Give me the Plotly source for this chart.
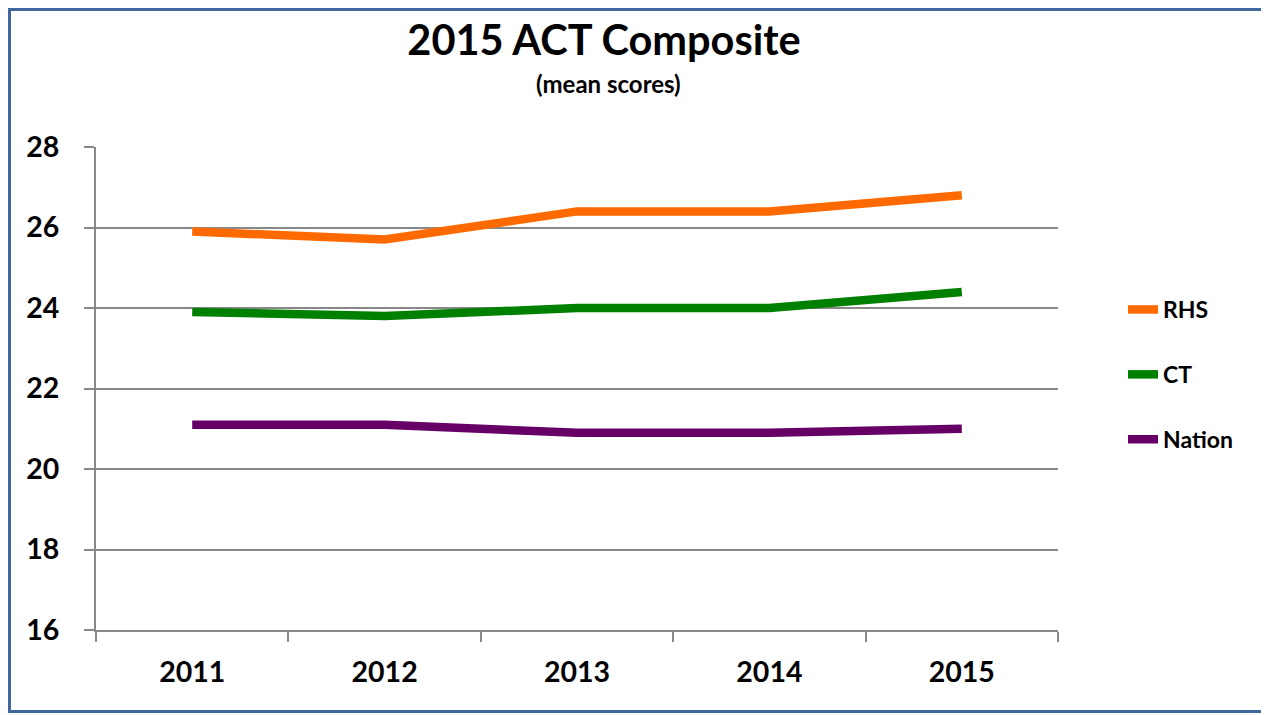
import plotly.graph_objects as go

years = ["2011", "2012", "2013", "2014", "2015"]
rhs = [25.9, 25.7, 26.4, 26.4, 26.8]
ct = [23.9, 23.8, 24.0, 24.0, 24.4]
nation = [21.1, 21.1, 20.9, 20.9, 21.0]
series_names = ["RHS", "CT", "Nation"]
colors = ["#FF6A00", "#008000", "#660066"]

# page body has an 8px margin; compensate so the chart lands where the reference has it
OFF = 8
W, H = 1269 - OFF, 715 - OFF
L, R, T, B = 96 - OFF, 1058 - OFF, 147 - OFF, 630 - OFF


def px_x(x):
    return (x - OFF - L) / (R - L)


def px_y(y):
    return (B - (y - OFF)) / (B - T)


fig = go.Figure()
for i, (name, vals) in enumerate(zip(series_names, [rhs, ct, nation])):
    fig.add_trace(go.Scatter(
        x=years, y=vals, mode="lines", name=name, legendgroup=name,
        line=dict(color=colors[i], width=8.5),
    ))

fig.update_layout(
    width=W, height=H,
    margin=dict(l=L, r=W - R, t=T, b=H - B, pad=0),
    paper_bgcolor="white", plot_bgcolor="white",
    font=dict(family="Lato", weight="bold", color="black"),
    showlegend=True,
    legend=dict(
        x=px_x(1123), y=px_y(288),
        xanchor="left", yanchor="top",
        font=dict(family="Lato", weight="bold", size=23, color="black"),
        tracegroupgap=32, bgcolor="rgba(0,0,0,0)",
    ),
    title=dict(
        text="2015 ACT Composite", x=(604 - OFF) / W, xanchor="center",
        y=1 - (40 - OFF) / H, yanchor="middle", xref="container", yref="container",
        font=dict(family="Lato", weight="bold", size=41.5, color="black"),
    ),
    xaxis=dict(
        type="category", range=[-0.5, 4.5], showgrid=False,
        showline=True, linecolor="#888888", linewidth=2,
        ticks="outside", tickson="boundaries", ticklen=10, tickcolor="#888888", tickwidth=2,
        tickfont=dict(family="Lato", weight="bold", size=28.5, color="black"),
        ticklabelstandoff=16,
        zeroline=False,
    ),
    yaxis=dict(
        range=[16, 28], dtick=2, tick0=16,
        showgrid=True, gridcolor="#888888", gridwidth=2,
        showline=True, linecolor="#888888", linewidth=2,
        ticks="outside", ticklen=10, tickcolor="#888888", tickwidth=2,
        tickfont=dict(family="Lato", weight="bold", size=28.5, color="black"),
        ticklabelstandoff=19,
        zeroline=False,
    ),
)

fig.add_annotation(
    text="(mean scores)", xref="paper", yref="paper",
    x=px_x(608), y=px_y(83),
    xanchor="center", yanchor="middle", showarrow=False,
    font=dict(family="Lato", weight="bold", size=24, color="black"),
)

fig.add_shape(
    type="rect", xref="paper", yref="paper",
    x0=px_x(OFF + 1.5), x1=px_x(1266.5),
    y0=px_y(711.5), y1=px_y(OFF + 1.5),
    line=dict(color="#3F689C", width=3), fillcolor="rgba(0,0,0,0)", layer="above",
)

fig.write_html("out.html")
